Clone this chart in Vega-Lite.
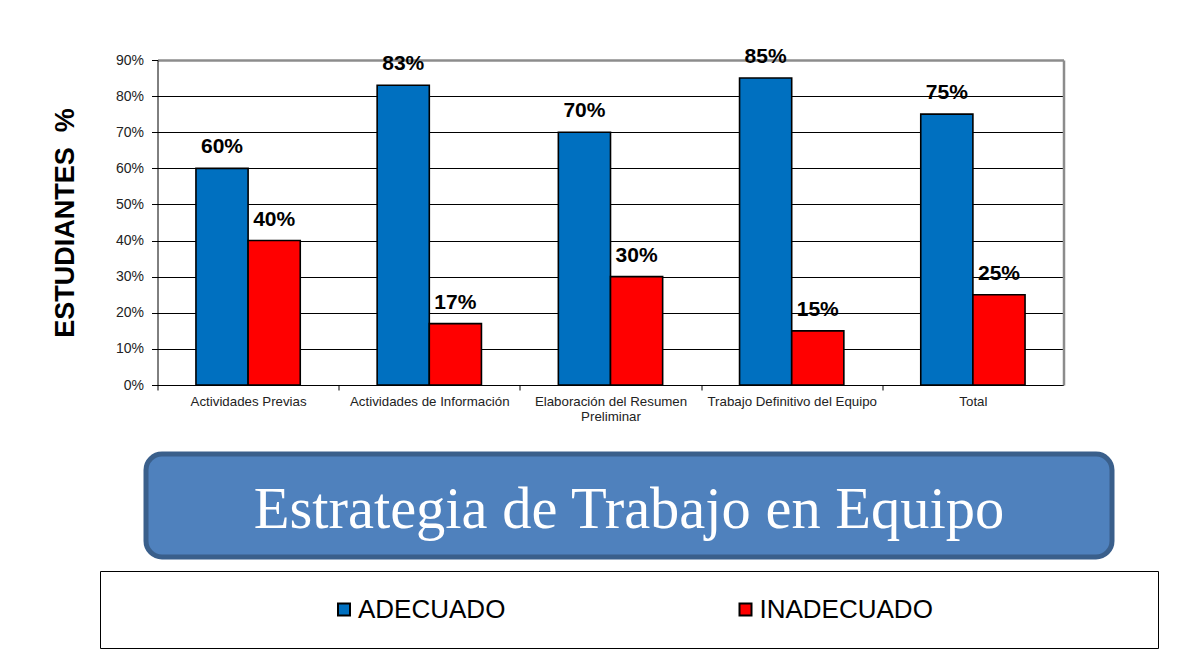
{
  "$schema": "https://vega.github.io/schema/vega-lite/v6.json",
  "background": "white",
  "padding": {"left": 51, "top": 46, "right": 5, "bottom": 5},
  "bounds": "flush",
  "center": true,
  "spacing": 14,
  "config": {"font": "Liberation Sans"},
  "datasets": {
    "barras": [
      {"categoria": "Actividades Previas", "estado": "ADECUADO", "valor": 0.60},
      {"categoria": "Actividades Previas", "estado": "INADECUADO", "valor": 0.40},
      {"categoria": "Actividades de Información", "estado": "ADECUADO", "valor": 0.83},
      {"categoria": "Actividades de Información", "estado": "INADECUADO", "valor": 0.17},
      {"categoria": "Elaboración del Resumen Preliminar", "estado": "ADECUADO", "valor": 0.70},
      {"categoria": "Elaboración del Resumen Preliminar", "estado": "INADECUADO", "valor": 0.30},
      {"categoria": "Trabajo Definitivo del Equipo", "estado": "ADECUADO", "valor": 0.85},
      {"categoria": "Trabajo Definitivo del Equipo", "estado": "INADECUADO", "valor": 0.15},
      {"categoria": "Total", "estado": "ADECUADO", "valor": 0.75},
      {"categoria": "Total", "estado": "INADECUADO", "valor": 0.25}
    ],
    "titulo": [{"texto": "Estrategia de Trabajo en Equipo"}],
    "leyenda": [{"estado": "ADECUADO"}, {"estado": "INADECUADO"}]
  },
  "vconcat": [
    {
      "width": 943,
      "height": 380,
      "view": {"stroke": null},
      "data": {"name": "barras"},
      "encoding": {
        "x": {
          "field": "categoria", "type": "nominal", "sort": null,
          "scale": {"range": [0, 906], "paddingInner": 0.4244, "paddingOuter": 0.2122},
          "axis": {
            "title": null, "labelAngle": 0, "labelFont": "Liberation Sans", "labelFontSize": 13.3,
            "labelColor": "#222", "tickOffset": -90.6, "labelOffset": 90.6, "tickSize": 5,
            "tickColor": "black", "domainColor": "black", "labelPadding": 4, "labelLineHeight": 15,
            "labelLimit": 300, "offset": -55,
            "labelExpr": "datum.value == 'Elaboración del Resumen Preliminar' ? ['Elaboración del Resumen', 'Preliminar'] : datum.label"
          }
        },
        "xOffset": {
          "field": "estado", "type": "nominal",
          "scale": {"domain": ["ADECUADO", "INADECUADO"], "paddingInner": 0, "paddingOuter": 0}
        }
      },
      "layer": [
        {
          "mark": {"type": "bar", "stroke": "black", "strokeWidth": 1.6, "opacity": 1},
          "encoding": {
            "y": {
              "field": "valor", "type": "quantitative",
              "scale": {"domain": [0, 0.9], "range": [325, 0], "nice": false},
              "axis": {
                "values": [0, 0.1, 0.2, 0.3, 0.4, 0.5, 0.6, 0.7, 0.8, 0.9],
                "format": ".0%", "labelFont": "Liberation Sans", "labelFontSize": 14,
                "labelColor": "#222", "labelPadding": 8, "tickSize": 6, "tickColor": "black",
                "domainColor": "black", "domainWidth": 1, "grid": true,
                "gridColor": {"condition": {"test": "datum.value >= 0.89", "value": "#8c8c8c"}, "value": "black"},
                "gridWidth": {"condition": {"test": "datum.value >= 0.89", "value": 2.5}, "value": 1},
                "title": "ESTUDIANTES\u00a0\u00a0%", "titleFont": "Liberation Sans", "titleFontSize": 27,
                "titleFontWeight": "bold", "titleColor": "black", "titlePadding": 36
              }
            },
            "color": {
              "field": "estado", "type": "nominal",
              "scale": {"domain": ["ADECUADO", "INADECUADO"], "range": ["#0070C0", "#FF0000"]},
              "legend": null
            }
          }
        },
        {
          "mark": {"type": "text", "fontSize": 21, "fontWeight": "bold", "color": "black", "baseline": "alphabetic", "dy": -15, "align": "center"},
          "encoding": {
            "y": {
              "field": "valor", "type": "quantitative",
              "scale": {"domain": [0, 0.9], "range": [325, 0], "nice": false},
              "axis": {
                "orient": "right", "offset": -37, "labels": false, "ticks": false, "grid": false,
                "title": null, "domainColor": "#8c8c8c", "domainWidth": 2.5
              }
            },
            "text": {"field": "valor", "type": "quantitative", "format": ".0%"}
          }
        }
      ],
      "resolve": {"axis": {"y": "independent"}}
    },
    {
      "width": 966,
      "height": 103,
      "view": {"fill": "#4F81BD", "stroke": "#3A5F8B", "strokeWidth": 5, "cornerRadius": 16},
      "data": {"name": "titulo"},
      "mark": {"type": "text", "font": "Liberation Serif", "fontSize": 58.5, "color": "white", "baseline": "alphabetic", "dy": 22.5, "align": "center"},
      "encoding": {"text": {"field": "texto", "type": "nominal"}}
    },
    {
      "width": 1058,
      "height": 77,
      "view": {"fill": "white", "stroke": "black", "strokeWidth": 1},
      "data": {"name": "leyenda"},
      "encoding": {
        "x": {"field": "estado", "type": "nominal", "scale": {"type": "point", "range": [244, 645.5], "padding": 0}, "axis": null}
      },
      "layer": [
        {
          "mark": {"type": "point", "shape": "square", "filled": true, "size": 144, "stroke": "black", "strokeWidth": 2, "opacity": 1},
          "encoding": {
            "color": {
              "field": "estado", "type": "nominal",
              "scale": {"domain": ["ADECUADO", "INADECUADO"], "range": ["#0070C0", "#FF0000"]},
              "legend": null
            }
          }
        },
        {
          "mark": {"type": "text", "align": "left", "dx": 14, "baseline": "alphabetic", "dy": 8, "fontSize": 26, "color": "black"},
          "encoding": {"text": {"field": "estado", "type": "nominal"}}
        }
      ]
    }
  ]
}
